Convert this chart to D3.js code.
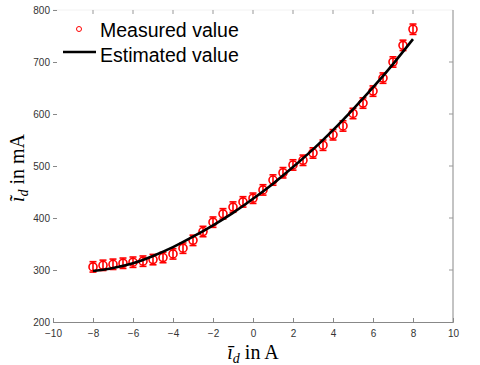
<!DOCTYPE html>
<html>
<head>
<meta charset="utf-8">
<script src="https://cdn.jsdelivr.net/npm/d3@7"></script>
<style>
  body { margin: 0; background: #fff; }
  .tick text { font-family: "Liberation Sans", Arial, sans-serif; font-size: 10px; fill: #333; }
</style>
</head>
<body>
<svg id="chart" width="480" height="365"></svg>
<script>
// measured points (x in A, y in mA) and the fitted curve
const measuredX = [-8, -7.5, -7, -6.5, -6, -5.5, -5, -4.5, -4, -3.5, -3, -2.5, -2, -1.5, -1, -0.5,
                   0, 0.5, 1, 1.5, 2, 2.5, 3, 3.5, 4, 4.5, 5, 5.5, 6, 6.5, 7, 7.5, 8];
const measuredY = [306, 309, 311, 313, 315, 317, 320, 324, 331, 342, 357, 374, 392, 408, 421, 431,
                   438, 454, 473, 487, 502, 511, 525, 540, 560, 577, 601, 621, 644, 669, 700, 732, 763];
const errorMA = 10;

const estimatedX = [-8, -7, -6, -5, -4, -3, -2, -1, 0, 1, 2, 3, 4, 5, 6, 7, 8];
const estimatedY = [298, 304, 313, 327, 344, 364, 386, 410, 437, 466, 498, 532, 569, 609, 651, 696, 744];

const xTicks = [-10, -8, -6, -4, -2, 0, 2, 4, 6, 8, 10];
const yTicks = [200, 300, 400, 500, 600, 700, 800];

const svg = d3.select("#chart");
const plotL = 53, plotR = 453, plotT = 10, plotB = 322;

const x = d3.scaleLinear().domain([-10, 10]).range([plotL, plotR]);
const y = d3.scaleLinear().domain([200, 800]).range([plotB, plotT]);

// frame: top edge is almost white in the original, left edge missing
svg.append("line").attr("x1", plotL).attr("x2", plotR).attr("y1", plotT).attr("y2", plotT)
    .attr("stroke", "#f2f2f2");
svg.append("line").attr("x1", plotR).attr("x2", plotR).attr("y1", plotT).attr("y2", plotB)
    .attr("stroke", "#888");

const xAxis = svg.append("g").attr("transform", `translate(0,${plotB})`)
    .call(d3.axisBottom(x).tickValues(xTicks).tickSize(-4).tickPadding(8).tickFormat(d => d < 0 ? "\u2212" + (-d) : d));
const yAxis = svg.append("g").attr("transform", `translate(${plotL},0)`)
    .call(d3.axisLeft(y).tickValues(yTicks).tickSize(-4).tickPadding(3));
xAxis.select(".domain").attr("stroke", "#888");
yAxis.select(".domain").remove();
xAxis.selectAll(".tick line").attr("stroke", "#888");
yAxis.selectAll(".tick line").attr("stroke", "#888");

// mirrored ticks on top and right
svg.append("g").selectAll("line").data(xTicks.slice(1, -1)).join("line")
    .attr("x1", d => x(d)).attr("x2", d => x(d)).attr("y1", plotT).attr("y2", plotT + 4)
    .attr("stroke", "#999");
svg.append("g").selectAll("line").data(yTicks.slice(1, -1)).join("line")
    .attr("x1", plotR - 4).attr("x2", plotR).attr("y1", d => y(d)).attr("y2", d => y(d))
    .attr("stroke", "#999");

// error bars
const pts = measuredX.map((v, i) => ({x: v, y: measuredY[i]}));
const eb = svg.append("g").attr("stroke", "#ff0000").attr("stroke-width", 1.6);
eb.selectAll("line.v").data(pts).join("line").attr("class", "v")
    .attr("x1", d => x(d.x)).attr("x2", d => x(d.x))
    .attr("y1", d => y(d.y - errorMA)).attr("y2", d => y(d.y + errorMA));
eb.selectAll("line.t").data(pts).join("line").attr("class", "t")
    .attr("x1", d => x(d.x) - 3.5).attr("x2", d => x(d.x) + 3.5)
    .attr("y1", d => y(d.y + errorMA)).attr("y2", d => y(d.y + errorMA));
eb.selectAll("line.b").data(pts).join("line").attr("class", "b")
    .attr("x1", d => x(d.x) - 3.5).attr("x2", d => x(d.x) + 3.5)
    .attr("y1", d => y(d.y - errorMA)).attr("y2", d => y(d.y - errorMA));

svg.append("g").selectAll("circle").data(pts).join("circle")
    .attr("cx", d => x(d.x)).attr("cy", d => y(d.y)).attr("r", 4)
    .attr("fill", "none").attr("stroke", "#ff0000").attr("stroke-width", 1.6);

// estimated curve
const line = d3.line().x(d => x(d[0])).y(d => y(d[1])).curve(d3.curveNatural);
svg.append("path").datum(estimatedX.map((v, i) => [v, estimatedY[i]]))
    .attr("d", line).attr("fill", "none").attr("stroke", "#000").attr("stroke-width", 2.6);

// legend
const lg = svg.append("g").attr("font-family", "'Liberation Sans', Arial, sans-serif").attr("font-size", 19.5);
lg.append("circle").attr("cx", 79).attr("cy", 29).attr("r", 2.5)
    .attr("fill", "none").attr("stroke", "#ff0000").attr("stroke-width", 1);
lg.append("text").attr("x", 100).attr("y", 37).text("Measured value");
lg.append("line").attr("x1", 63).attr("x2", 96).attr("y1", 52).attr("y2", 52)
    .attr("stroke", "#000").attr("stroke-width", 2.6);
lg.append("text").attr("x", 100).attr("y", 62).text("Estimated value");

// axis labels
const serif = "'Liberation Serif', 'DejaVu Serif', serif";
const xl = svg.append("text").attr("x", 253).attr("y", 359).attr("text-anchor", "middle")
    .attr("font-family", serif).attr("font-size", 20);
xl.append("tspan").attr("font-style", "italic").text("\u012B");
xl.append("tspan").attr("font-style", "italic").attr("font-size", 14).attr("dy", 4).text("d");
xl.append("tspan").attr("dy", -4).text(" in A");

const yl = svg.append("text").attr("transform", "translate(24,168) rotate(-90)").attr("text-anchor", "middle")
    .attr("font-family", serif).attr("font-size", 20);
yl.append("tspan").attr("font-style", "italic").text("\u0129");
yl.append("tspan").attr("font-style", "italic").attr("font-size", 14).attr("dy", 4).text("d");
yl.append("tspan").attr("dy", -4).text(" in mA");
</script>
</body>
</html>
